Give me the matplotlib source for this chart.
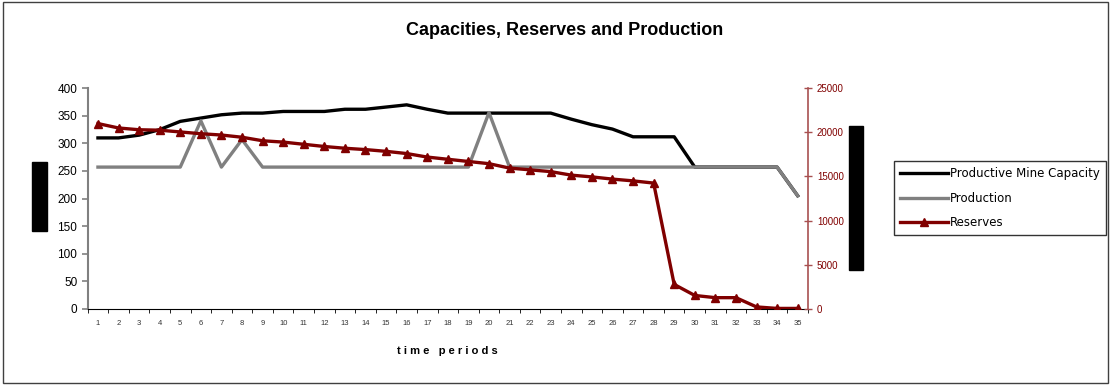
import matplotlib as mpl
mpl.use('Agg')
import matplotlib.pyplot as plt
from matplotlib.patches import Rectangle
import numpy as np

plt.rcParams['font.family'] = ['Liberation Sans', 'DejaVu Sans']

periods = list(range(1, 36))
capacity = [310, 310, 315, 325, 340, 346, 352, 355, 355, 358,
            358, 358, 362, 362, 366, 370, 362, 355, 355, 355,
            355, 355, 355, 344, 334, 326, 312, 312, 312, 257,
            257, 257, 257, 257, 205]
production = [257, 257, 257, 257, 257, 341, 257, 307, 257, 257,
              257, 257, 257, 257, 257, 257, 257, 257, 257, 356,
              257, 257, 257, 257, 257, 257, 257, 257, 257, 257,
              257, 257, 257, 257, 205]
reserves = [21000, 20500, 20300, 20250, 20050, 19850, 19700, 19450, 19050, 18900,
            18650, 18400, 18200, 18050, 17850, 17600, 17200, 16950, 16700, 16450,
            15950, 15750, 15550, 15150, 14950, 14700, 14500, 14250, 2750, 1500,
            1250, 1250, 200, 30, 30]

dark_red = '#800000'

fig = plt.figure(figsize=(11.18, 3.86), dpi=100)
ax = fig.add_axes([0.0784, 0.2003, 0.6443, 0.5709])
ax2 = ax.twinx()

l1, = ax.plot(periods, capacity, color='black', linewidth=2.4,
              solid_joinstyle='round', label='Productive Mine Capacity')
l2, = ax.plot(periods, production, color='#808080', linewidth=2.4,
              solid_joinstyle='round', label='Production')
l3, = ax2.plot(periods, reserves, color=dark_red, linewidth=2.4, marker='^',
               markersize=6, label='Reserves')

ax.set_xlim(0.5, 35.5)
ax.set_ylim(0, 400)
ax.set_yticks(np.arange(0, 401, 50))
ax2.set_ylim(0, 25000)
ax2.set_yticks(np.arange(0, 25001, 5000))

ax.set_xticks(periods)
ax.set_xticklabels([str(p) for p in periods], fontsize=5.5, color='#333333')
ax.set_xticks(np.arange(0.5, 35.6, 1), minor=True)
ax.tick_params(axis='x', which='major', length=0, pad=8)
ax.tick_params(axis='x', which='minor', length=3, color='black', direction='out')
ax.tick_params(axis='y', labelsize=8.5, color='#808080', length=4, width=1.2)
ax2.tick_params(axis='y', labelsize=7, labelcolor=dark_red, color='#a85050',
                length=6, direction='inout', width=1)

for side in ['top', 'right']:
    ax.spines[side].set_visible(False)
for side in ['top', 'left']:
    ax2.spines[side].set_visible(False)
ax.spines['left'].set_color('#808080')
ax.spines['left'].set_linewidth(1.5)
ax.spines['bottom'].set_color('black')
ax2.spines['bottom'].set_visible(False)
ax2.spines['right'].set_color('#a85050')
ax2.spines['right'].set_linewidth(1.2)

ax.set_xlabel('t i m e   p e r i o d s', fontsize=8, fontweight='bold', labelpad=14)

fig.text(0.505, 0.922, 'Capacities, Reserves and Production', ha='center',
         va='center', fontsize=13, fontweight='bold')

# blacked-out axis titles
fig.patches.append(Rectangle((32 / 1118, 1 - 231 / 386), 15 / 1118, 69 / 386,
                             transform=fig.transFigure, color='black'))
fig.patches.append(Rectangle((849 / 1118, 1 - 270 / 386), 14 / 1118, 144 / 386,
                             transform=fig.transFigure, color='black'))

# outer chart border
fig.patches.append(Rectangle((3 / 1118, 3 / 386), 1105 / 1118, 381 / 386,
                             transform=fig.transFigure, fill=False,
                             edgecolor='#404040', linewidth=1))

leg = fig.legend([l1, l2, l3], [l.get_label() for l in (l1, l2, l3)],
                 loc='upper left', bbox_to_anchor=(894 / 1118, 1 - 161 / 386),
                 prop={'family': 'DejaVu Sans', 'size': 8.5},
                 frameon=True, fancybox=False, edgecolor='black',
                 handlelength=4.0, handletextpad=0.2, borderpad=0.55,
                 labelspacing=0.95, borderaxespad=0)
leg.get_frame().set_linewidth(1)

fig.savefig('out.png', dpi=100)
